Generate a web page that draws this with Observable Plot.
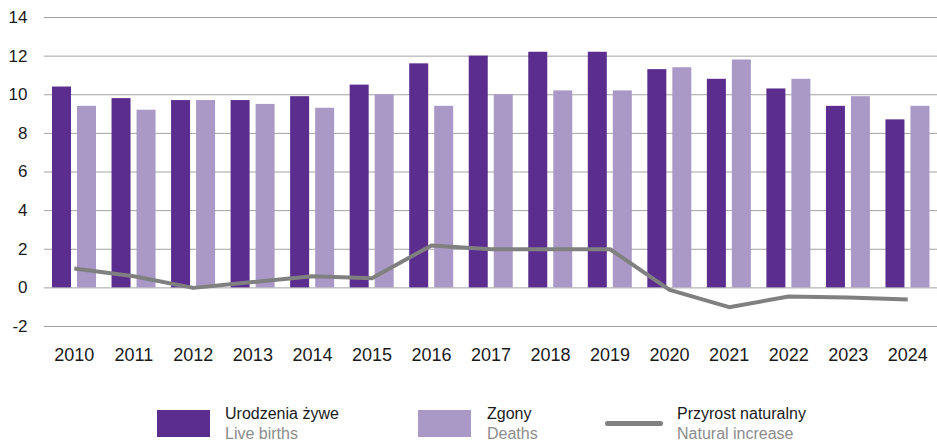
<!DOCTYPE html>
<html>
<head>
<meta charset="utf-8">
<script src="https://cdn.jsdelivr.net/npm/d3@7"></script>
<script src="https://cdn.jsdelivr.net/npm/@observablehq/plot@0.6"></script>
<style>
  html, body { margin: 0; padding: 0; background: #fff; }
  body { width: 937px; height: 443px; overflow: hidden; font-family: "Liberation Sans", Arial, sans-serif; }
  #legend { position: relative; height: 43px; }
  .sw { position: absolute; }
  .lbl { position: absolute; top: 4px; white-space: nowrap; font-size: 16px; line-height: 20px; }
  .lbl .pl { color: #1a1a1a; }
  .lbl .en { color: #8c8c8c; }
</style>
</head>
<body>
<div id="chart"></div>
<div id="legend"></div>
<script>
const years = [2010, 2011, 2012, 2013, 2014, 2015, 2016, 2017, 2018, 2019, 2020, 2021, 2022, 2023, 2024];
const liveBirths = [10.4, 9.8, 9.7, 9.7, 9.9, 10.5, 11.6, 12.0, 12.2, 12.2, 11.3, 10.8, 10.3, 9.4, 8.7];
const deaths = [9.4, 9.2, 9.7, 9.5, 9.3, 10.0, 9.4, 10.0, 10.2, 10.2, 11.4, 11.8, 10.8, 9.9, 9.4];
const naturalIncrease = [1.0, 0.6, 0.0, 0.3, 0.6, 0.5, 2.2, 2.0, 2.0, 2.0, -0.1, -1.0, -0.45, -0.5, -0.6];
const yTicks = [-2, 0, 2, 4, 6, 8, 10, 12, 14];
const seriesNames = [
  {pl: "Urodzenia żywe", en: "Live births"},
  {pl: "Zgony", en: "Deaths"},
  {pl: "Przyrost naturalny", en: "Natural increase"}
];

const colBirths = "#5a2d8f";
const colDeaths = "#aa99c7";
const colLine = "#808080";

const W = 937, ML = 44, MR = 0;
const band = (W - ML - MR) / years.length;
const lead = 8, barW = 19, gap = 6;

const birthsData = years.map((y, i) => ({year: String(y), value: liveBirths[i]}));
const deathsData = years.map((y, i) => ({year: String(y), value: deaths[i]}));
const incData = years.map((y, i) => ({year: String(y), value: naturalIncrease[i]}));

const chart = Plot.plot({
  width: W,
  height: 400,
  marginLeft: ML,
  marginRight: MR,
  marginTop: 17,
  marginBottom: 74,
  style: {fontFamily: "'Liberation Sans', Arial, sans-serif", fontSize: "17px", color: "#1a1a1a", background: "#fff"},
  x: {type: "band", domain: years.map(String), paddingInner: 0, paddingOuter: 0, round: false, label: null},
  y: {domain: [-2, 14], label: null},
  marks: [
    Plot.ruleY(yTicks, {stroke: "#a3a3a3", strokeWidth: 1}),
    Plot.barY(birthsData, {x: "year", y: "value", fill: colBirths, insetLeft: lead, insetRight: band - lead - barW}),
    Plot.barY(deathsData, {x: "year", y: "value", fill: colDeaths, insetLeft: lead + barW + gap, insetRight: band - lead - 2 * barW - gap}),
    Plot.line(incData, {x: "year", y: "value", stroke: colLine, strokeWidth: 4, strokeLinejoin: "round", strokeLinecap: "butt"}),
    Plot.axisX({tickSize: 0, tickPadding: 22, fontSize: 18, label: null}),
    Plot.axisY(yTicks, {tickSize: 0, tickPadding: 17, fontSize: 17, label: null, tickFormat: d => d < 0 ? "-" + Math.abs(d) : String(d)})
  ]
});
document.getElementById("chart").appendChild(chart);

// legend
const legend = document.getElementById("legend");
const items = [
  {x: 157, type: "rect", color: colBirths, textX: 225, s: seriesNames[0]},
  {x: 418, type: "rect", color: colDeaths, textX: 487, s: seriesNames[1]},
  {x: 605, type: "line", color: colLine, textX: 677, s: seriesNames[2]}
];
for (const it of items) {
  const sw = document.createElement("div");
  sw.className = "sw";
  if (it.type === "rect") {
    Object.assign(sw.style, {left: it.x + "px", top: "10px", width: "53px", height: "27px", background: it.color});
  } else {
    Object.assign(sw.style, {left: it.x + "px", top: "21px", width: "58px", height: "5px", background: it.color, borderRadius: "3px"});
  }
  legend.appendChild(sw);
  const lbl = document.createElement("div");
  lbl.className = "lbl";
  lbl.style.left = it.textX + "px";
  lbl.innerHTML = `<div class="pl">${it.s.pl}</div><div class="en">${it.s.en}</div>`;
  legend.appendChild(lbl);
}
</script>
</body>
</html>
